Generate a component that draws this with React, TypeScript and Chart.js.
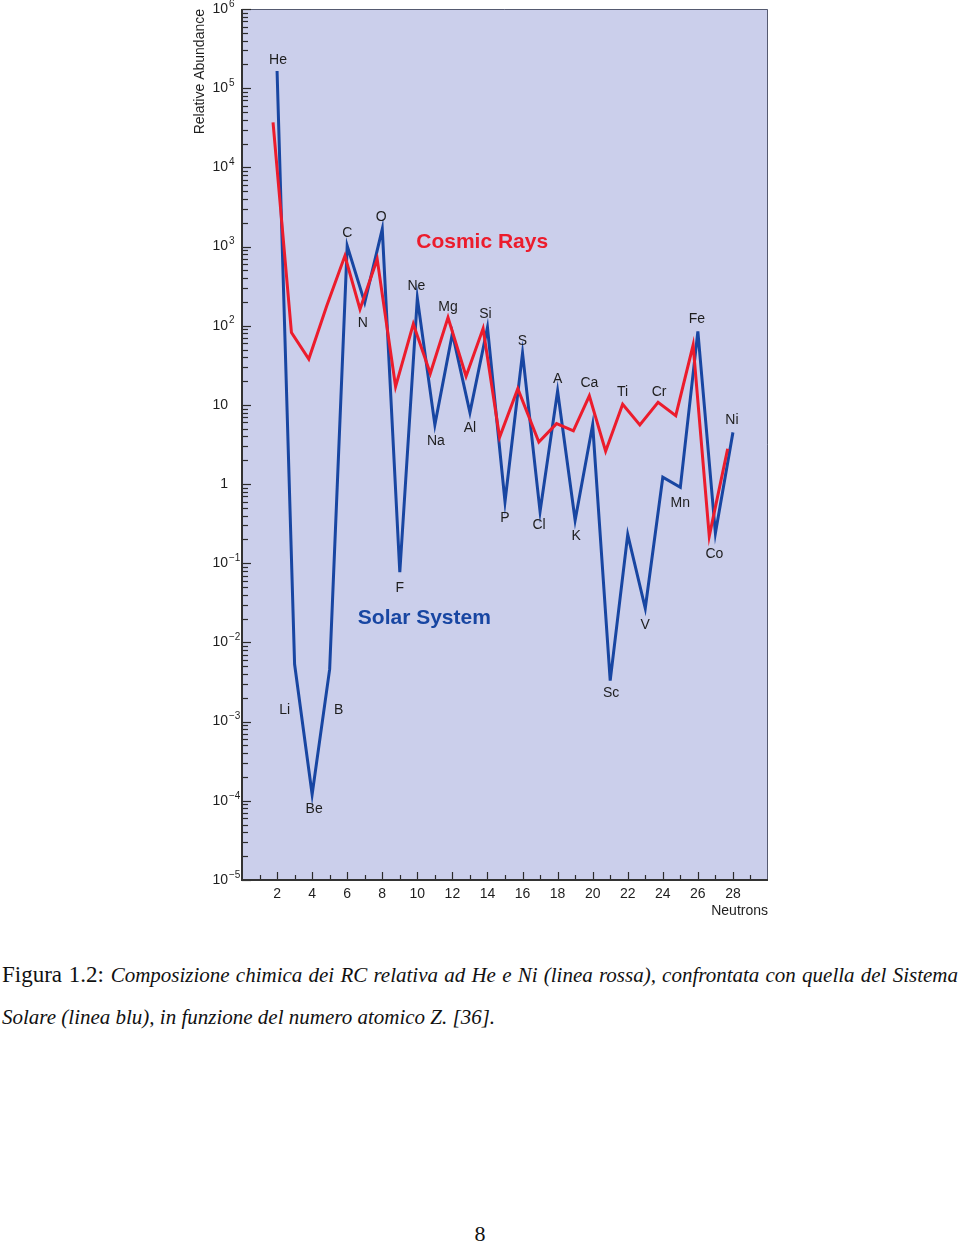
import React, { useEffect, useRef } from 'react';
import { Chart, registerables } from 'chart.js';

Chart.register(...registerables);

// ---------- data ----------
const elements = ['He', 'Li', 'Be', 'B', 'C', 'N', 'O', 'F', 'Ne', 'Na', 'Mg', 'Al', 'Si', 'P', 'S', 'Cl', 'A', 'K', 'Ca', 'Sc', 'Ti', 'V', 'Cr', 'Mn', 'Fe', 'Co', 'Ni'];
const solarZ = [2, 3, 4, 5, 6, 7, 8, 9, 10, 11, 12, 13, 14, 15, 16, 17, 18, 19, 20, 21, 22, 23, 24, 25, 26, 27, 28];
const solarValues = [1.65e5, 5.3e-3, 1.2e-4, 4.6e-3, 1020, 196, 1660, 0.077, 223, 5.6, 80, 8.0, 95, 0.6, 45, 0.45, 15, 0.35, 5.6, 3.3e-3, 0.23, 0.027, 1.22, 0.91, 85, 0.24, 4.5];
const cosmicZ = [1.77, 2.82, 3.81, 4.83, 5.87, 6.73, 7.71, 8.76, 9.77, 10.74, 11.75, 12.78, 13.75, 14.69, 15.73, 16.93, 17.94, 18.9, 19.81, 20.74, 21.71, 22.69, 23.73, 24.74, 25.73, 26.65, 27.7];
const cosmicValues = [3.7e4, 82, 38, 178, 764, 162, 693, 17, 105, 25, 127, 23, 92, 3.9, 16, 3.4, 5.8, 4.7, 13, 2.6, 10.2, 5.6, 10.8, 7.3, 57, 0.22, 2.8];
const xTickValues = [2, 4, 6, 8, 10, 12, 14, 16, 18, 20, 22, 24, 26, 28];
const yTickValues = [1e-5, 1e-4, 1e-3, 1e-2, 1e-1, 1, 10, 1e2, 1e3, 1e4, 1e5, 1e6];
const yTickBases = ['10', '10', '10', '10', '10', '1', '10', '10', '10', '10', '10', '10'];
const yTickExponents = ['−5', '−4', '−3', '−2', '−1', '', '', '2', '3', '4', '5', '6'];
const seriesNames = ['Cosmic Rays', 'Solar System'];
const seriesNameAt = [[13.7, 1150], [10.4, 0.02]];
const yTitle = 'Relative Abundance';
const xTitle = 'Neutrons';

// ---------- styling ----------
const RED = '#ec1c2c';
const BLUE = '#1846a2';
const BG = '#cbcfeb';
const TXT = '#1e1e1e';
const FONT = '"Liberation Sans", Arial, Helvetica, sans-serif';

// label placement: [anchor series ('s' solar / 'c' cosmic), dx, dy] in px
const labelPlace: Record<string, [string, number, number]> = {
  He: ['s', 1, -11], Li: ['s', -10, 46], Be: ['s', 2, 15], B: ['s', 9, 41], C: ['s', 0, -13],
  N: ['s', -2, 21], O: ['s', -1, -12], F: ['s', 0, 16], Ne: ['s', -1, -12], Na: ['s', 1, 16],
  Mg: ['c', 0, -10], Al: ['s', 0, 16], Si: ['s', -2, -13], P: ['s', 0, 16], S: ['s', 0, -12],
  Cl: ['s', -1, 14], A: ['s', 0, -12], K: ['s', 1, 16], Ca: ['c', 0, -13], Sc: ['s', 1, 13],
  Ti: ['c', 0, -12], V: ['s', 0, 17], Cr: ['c', 1, -10], Mn: ['s', 0, 16], Fe: ['s', -1, -12],
  Co: ['s', -1, 21], Ni: ['s', -1, -12],
};

const framePlugin = {
  id: 'frame',
  beforeDraw(chart: any) {
    const { ctx, chartArea: a } = chart;
    ctx.save();
    ctx.fillStyle = BG;
    ctx.fillRect(a.left, a.top, a.right - a.left, a.bottom - a.top);
    ctx.restore();
  },
  beforeDatasetsDraw(chart: any) {
    const { ctx, chartArea: a, scales } = chart;
    const x = scales.x, y = scales.y;
    ctx.save();
    ctx.strokeStyle = '#555a70';
    ctx.lineWidth = 1;
    ctx.beginPath();
    ctx.moveTo(a.left, a.top + 0.5);
    ctx.lineTo(a.right - 0.5, a.top + 0.5);
    ctx.lineTo(a.right - 0.5, a.bottom);
    ctx.stroke();
    ctx.strokeStyle = '#2a2a2a';
    ctx.lineWidth = 1.2;
    for (let n = -5; n <= 6; n++) {
      for (let k = 1; k <= 9; k++) {
        const v = k * Math.pow(10, n);
        if (v > 1e6 * 1.0001) break;
        const py = Math.round(y.getPixelForValue(v)) + 0.5;
        const len = k === 1 ? 9 : 6;
        ctx.beginPath();
        ctx.moveTo(a.left, py);
        ctx.lineTo(a.left + len, py);
        ctx.stroke();
      }
    }
    for (let i = 1; i <= 29; i++) {
      const px = Math.round(x.getPixelForValue(i)) + 0.5;
      const len = i % 2 === 0 ? 8 : 5;
      ctx.beginPath();
      ctx.moveTo(px, a.bottom);
      ctx.lineTo(px, a.bottom - len);
      ctx.stroke();
    }
    ctx.strokeStyle = '#333';
    ctx.lineWidth = 2;
    ctx.beginPath();
    ctx.moveTo(a.left, a.top);
    ctx.lineTo(a.left, a.bottom);
    ctx.lineTo(a.right, a.bottom);
    ctx.stroke();
    ctx.restore();
  },
  afterDatasetsDraw(chart: any) {
    const { ctx, scales } = chart;
    const x = scales.x, y = scales.y;
    ctx.save();
    ctx.textAlign = 'center';
    ctx.textBaseline = 'middle';
    ctx.fillStyle = TXT;
    ctx.font = `14px ${FONT}`;
    elements.forEach((el, i) => {
      const p = labelPlace[el];
      const px = p[0] === 's' ? x.getPixelForValue(solarZ[i]) : x.getPixelForValue(cosmicZ[i]);
      const py = p[0] === 's' ? y.getPixelForValue(solarValues[i]) : y.getPixelForValue(cosmicValues[i]);
      ctx.fillText(el, px + p[1], py + p[2]);
    });
    ctx.font = `bold 21px ${FONT}`;
    ctx.fillStyle = RED;
    ctx.fillText(seriesNames[0], x.getPixelForValue(seriesNameAt[0][0]), y.getPixelForValue(seriesNameAt[0][1]));
    ctx.fillStyle = BLUE;
    ctx.fillText(seriesNames[1], x.getPixelForValue(seriesNameAt[1][0]), y.getPixelForValue(seriesNameAt[1][1]));
    ctx.restore();
  },
  afterDraw(chart: any) {
    const { ctx, chartArea: a, scales } = chart;
    const y = scales.y;
    ctx.save();
    ctx.fillStyle = TXT;
    ctx.font = `10px ${FONT}`;
    ctx.textAlign = 'left';
    ctx.textBaseline = 'middle';
    yTickValues.forEach((v, i) => {
      if (!yTickExponents[i]) return;
      ctx.fillText(yTickExponents[i], a.left - 13, y.getPixelForValue(v) - 5);
    });
    ctx.font = `14px ${FONT}`;
    ctx.save();
    ctx.translate(200, a.top);
    ctx.rotate(-Math.PI / 2);
    ctx.textAlign = 'right';
    ctx.fillText(yTitle, 0, 0);
    ctx.restore();
    ctx.textAlign = 'right';
    ctx.fillText(xTitle, a.right, a.bottom + 31);
    ctx.restore();
  },
};

function ChartView() {
  const ref = useRef<HTMLCanvasElement | null>(null);
  useEffect(() => {
    if (!ref.current) return;
    const chart = new Chart(ref.current, {
      type: 'line',
      data: {
        datasets: [
          {
            label: seriesNames[0],
            data: cosmicZ.map((z, i) => ({ x: z, y: cosmicValues[i] })),
            borderColor: RED,
            borderWidth: 3,
            pointRadius: 0,
            tension: 0,
            borderJoinStyle: 'miter',
            fill: false,
          },
          {
            label: seriesNames[1],
            data: solarZ.map((z, i) => ({ x: z, y: solarValues[i] })),
            borderColor: BLUE,
            borderWidth: 3,
            pointRadius: 0,
            tension: 0,
            borderJoinStyle: 'miter',
            fill: false,
          },
        ],
      },
      options: {
        responsive: false,
        animation: false,
        devicePixelRatio: 1,
        layout: { padding: { left: 0, right: 192, top: 9, bottom: 0 } },
        plugins: { legend: { display: false }, tooltip: { enabled: false } },
        scales: {
          x: {
            type: 'linear',
            min: 0,
            max: 30,
            grid: { display: false, drawTicks: false },
            border: { display: false },
            afterBuildTicks: (s: any) => { s.ticks = xTickValues.map((v) => ({ value: v })); },
            afterFit: (s: any) => { s.height = 50; s.paddingLeft = 0; s.paddingRight = 0; },
            ticks: {
              autoSkip: false,
              maxRotation: 0,
              padding: 6,
              color: TXT,
              font: { family: FONT, size: 14 },
              callback: (v: any) => String(v),
            },
          },
          y: {
            type: 'logarithmic',
            min: 1e-5,
            max: 1e6,
            grid: { display: false, drawTicks: false },
            border: { display: false },
            afterBuildTicks: (s: any) => { s.ticks = yTickValues.map((v) => ({ value: v })); },
            afterFit: (s: any) => { s.width = 242; s.paddingTop = 0; s.paddingBottom = 0; },
            ticks: {
              autoSkip: false,
              padding: 14,
              color: TXT,
              font: { family: FONT, size: 14 },
              callback: (v: any) => {
                const i = yTickValues.findIndex((t) => Math.abs(Math.log10(t) - Math.log10(v)) < 1e-6);
                return i >= 0 ? yTickBases[i] : '';
              },
            },
          },
        },
      },
      plugins: [framePlugin],
    } as any);
    return () => chart.destroy();
  }, []);
  return <canvas ref={ref} width={960} height={930} style={{ display: 'block', width: 960, height: 930 }} />;
}

export default function App() {
  const serif = '"Liberation Serif", "Times New Roman", Times, serif';
  return (
    <div style={{ position: 'absolute', left: 0, top: 0, width: 960, height: 1244, background: '#fff', overflow: 'hidden' }}>
      <ChartView />
      <div style={{ position: 'absolute', left: 2, top: 961, width: 956, fontFamily: serif, lineHeight: '28px', whiteSpace: 'nowrap', textAlign: 'justify', textAlignLast: 'justify' as any, color: '#111' }}>
        <span style={{ fontSize: 23 }}>Figura 1.2: </span>
        <span style={{ fontSize: 21, fontStyle: 'italic' }}>Composizione chimica dei RC relativa ad He e Ni (linea rossa), confrontata con quella del Sistema</span>
      </div>
      <div style={{ position: 'absolute', left: 2, top: 1003, fontFamily: serif, lineHeight: '28px', whiteSpace: 'nowrap', color: '#111' }}>
        <span style={{ fontSize: 21, fontStyle: 'italic' }}>Solare (linea blu), in funzione del numero atomico Z. [36].</span>
      </div>
      <div style={{ position: 'absolute', left: 0, top: 1220, width: 960, textAlign: 'center', fontFamily: serif, fontSize: 22, lineHeight: '28px', color: '#111' }}>8</div>
    </div>
  );
}
